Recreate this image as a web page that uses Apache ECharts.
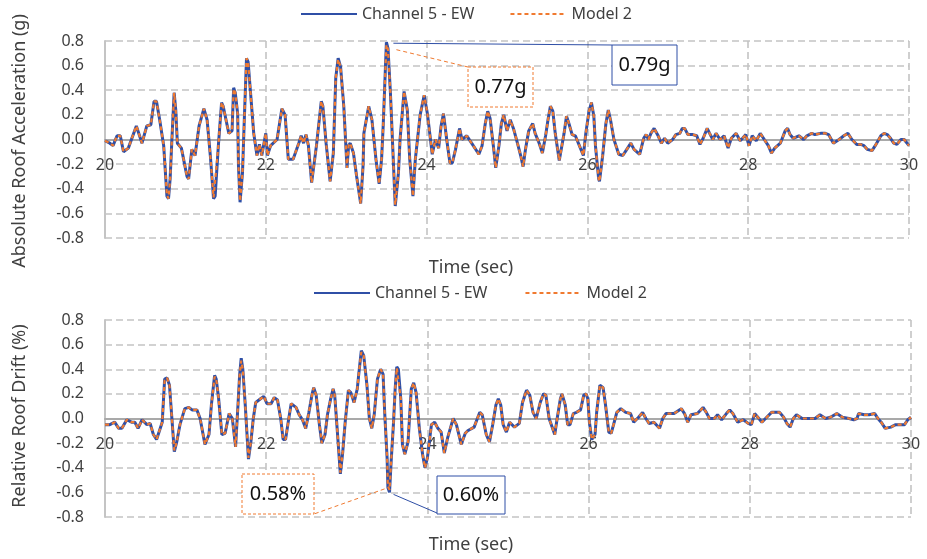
<!DOCTYPE html>
<html><head><meta charset="utf-8">
<script src="https://cdn.jsdelivr.net/npm/echarts@6/dist/echarts.min.js"></script>
<style>html,body{margin:0;padding:0;background:#fff}#c{width:927px;height:559px}</style>
</head><body><div id="c"></div>
<script>
// ---------- Data ----------
const accTime = [20.00,20.06,20.10,20.15,20.19,20.23,20.29,20.39,20.46,20.52,20.57,20.61,20.64,20.68,20.73,20.77,20.79,20.81,20.83,20.86,20.88,20.90,20.95,21.02,21.04,21.08,21.12,21.17,21.23,21.27,21.31,21.35,21.37,21.41,21.45,21.47,21.54,21.58,21.60,21.62,21.65,21.66,21.68,21.71,21.73,21.76,21.78,21.81,21.85,21.89,21.92,21.95,22.00,22.02,22.06,22.14,22.20,22.24,22.28,22.34,22.41,22.44,22.47,22.50,22.53,22.57,22.59,22.63,22.69,22.71,22.75,22.80,22.84,22.87,22.90,22.93,22.97,23.01,23.03,23.05,23.09,23.13,23.18,23.21,23.22,23.28,23.32,23.37,23.41,23.44,23.46,23.50,23.52,23.55,23.58,23.61,23.65,23.67,23.72,23.76,23.79,23.83,23.86,23.92,23.97,24.01,24.07,24.11,24.15,24.18,24.21,24.25,24.29,24.32,24.36,24.41,24.44,24.50,24.56,24.65,24.69,24.73,24.76,24.79,24.83,24.86,24.90,24.93,24.96,25.00,25.04,25.08,25.13,25.17,25.20,25.23,25.27,25.32,25.35,25.40,25.44,25.48,25.51,25.54,25.57,25.60,25.65,25.67,25.71,25.74,25.77,25.81,25.85,25.90,25.95,25.98,26.02,26.05,26.08,26.10,26.14,26.15,26.19,26.23,26.26,26.29,26.33,26.39,26.44,26.48,26.54,26.58,26.65,26.70,26.73,26.76,26.79,26.83,26.88,26.92,26.96,27.00,27.06,27.10,27.15,27.18,27.21,27.25,27.31,27.36,27.40,27.44,27.49,27.52,27.56,27.60,27.65,27.70,27.75,27.79,27.85,27.90,27.93,27.97,28.01,28.05,28.10,28.15,28.19,28.25,28.29,28.33,28.40,28.46,28.49,28.52,28.56,28.63,28.69,28.73,28.79,28.83,28.90,28.96,29.00,29.06,29.13,29.19,29.24,29.29,29.35,29.40,29.44,29.48,29.54,29.58,29.65,29.69,29.73,29.77,29.81,29.85,29.90,29.94,30.00];
const accChannel5 = [-0.01,-0.03,-0.05,0.03,0.03,-0.10,-0.07,0.11,-0.03,0.11,0.12,0.31,0.31,0.16,-0.05,-0.46,-0.48,-0.32,-0.03,0.38,0.24,-0.03,-0.07,-0.30,-0.32,-0.08,-0.13,0.11,0.25,0.16,-0.13,-0.48,-0.46,-0.05,0.30,0.27,0.05,0.07,0.42,0.38,0.21,-0.21,-0.51,-0.27,0.11,0.66,0.63,0.38,0.05,-0.13,-0.04,-0.13,0.05,-0.13,-0.05,0.00,0.25,0.20,-0.16,-0.16,-0.03,0.03,-0.03,0.04,-0.05,-0.35,-0.36,-0.05,0.31,0.27,-0.03,-0.34,-0.11,0.50,0.66,0.59,0.27,-0.23,-0.05,-0.03,-0.11,-0.30,-0.52,-0.21,0.05,0.27,0.16,-0.16,-0.36,-0.16,0.11,0.79,0.74,0.38,-0.08,-0.54,-0.27,0.00,0.39,0.24,-0.16,-0.46,-0.16,0.20,0.36,0.21,-0.12,0.00,-0.07,0.11,0.21,0.00,-0.19,-0.19,-0.08,0.09,0.00,0.03,-0.03,-0.12,-0.05,0.13,0.23,0.17,-0.05,-0.23,-0.05,0.13,0.20,0.07,0.16,0.09,-0.03,-0.13,-0.22,-0.08,0.07,0.13,0.05,-0.03,-0.11,0.03,0.16,0.27,0.23,0.05,-0.17,-0.16,0.05,0.19,0.13,0.04,0.03,-0.05,-0.13,0.05,0.23,0.30,0.19,-0.05,-0.32,-0.34,-0.13,0.13,0.24,0.15,0.00,-0.12,-0.13,-0.09,-0.03,-0.08,-0.12,0.01,0.04,0.00,0.05,0.09,0.03,-0.03,0.01,-0.03,0.00,0.04,0.05,0.09,0.09,0.04,0.04,0.03,-0.04,0.01,0.09,0.05,0.00,0.05,0.00,0.03,-0.07,0.01,0.05,-0.01,0.01,0.04,-0.05,0.03,-0.01,0.05,0.01,-0.05,-0.11,-0.07,-0.03,0.07,0.09,0.04,0.01,0.03,0.00,0.03,0.05,0.04,0.05,0.05,0.04,-0.03,0.00,0.03,0.05,0.00,-0.04,-0.04,-0.05,-0.08,-0.09,-0.05,0.03,0.05,0.04,0.01,-0.03,-0.04,0.00,0.00,-0.05];
const accModel2 = [-0.01,-0.03,-0.05,0.03,0.03,-0.10,-0.07,0.11,-0.03,0.11,0.12,0.31,0.31,0.16,-0.05,-0.45,-0.48,-0.32,-0.03,0.38,0.24,-0.03,-0.07,-0.30,-0.32,-0.08,-0.13,0.11,0.25,0.16,-0.13,-0.47,-0.46,-0.05,0.30,0.27,0.05,0.07,0.41,0.38,0.21,-0.21,-0.50,-0.27,0.11,0.66,0.63,0.38,0.05,-0.13,-0.04,-0.13,0.05,-0.13,-0.05,0.00,0.25,0.20,-0.16,-0.16,-0.03,0.03,-0.03,0.04,-0.05,-0.35,-0.36,-0.05,0.31,0.27,-0.03,-0.34,-0.11,0.50,0.65,0.59,0.27,-0.23,-0.05,-0.03,-0.11,-0.30,-0.52,-0.21,0.05,0.27,0.16,-0.16,-0.36,-0.16,0.11,0.77,0.73,0.38,-0.08,-0.53,-0.27,0.00,0.39,0.24,-0.16,-0.46,-0.16,0.20,0.36,0.21,-0.12,0.00,-0.07,0.11,0.21,0.00,-0.19,-0.19,-0.08,0.09,0.00,0.03,-0.03,-0.12,-0.05,0.13,0.23,0.17,-0.05,-0.23,-0.05,0.13,0.20,0.07,0.16,0.09,-0.03,-0.13,-0.22,-0.08,0.07,0.13,0.05,-0.03,-0.11,0.03,0.16,0.27,0.23,0.05,-0.17,-0.16,0.05,0.19,0.13,0.04,0.03,-0.05,-0.13,0.05,0.23,0.30,0.19,-0.05,-0.32,-0.34,-0.13,0.13,0.24,0.15,0.00,-0.12,-0.13,-0.09,-0.03,-0.08,-0.12,0.01,0.04,0.00,0.05,0.09,0.03,-0.03,0.01,-0.03,0.00,0.04,0.05,0.09,0.09,0.04,0.04,0.03,-0.04,0.01,0.09,0.05,0.00,0.05,0.00,0.03,-0.07,0.01,0.05,-0.01,0.01,0.04,-0.05,0.03,-0.01,0.05,0.01,-0.05,-0.11,-0.07,-0.03,0.07,0.09,0.04,0.01,0.03,0.00,0.03,0.05,0.04,0.05,0.05,0.04,-0.03,0.00,0.03,0.05,0.00,-0.04,-0.04,-0.05,-0.08,-0.09,-0.05,0.03,0.05,0.04,0.01,-0.03,-0.04,0.00,0.00,-0.05];

const driftTime = [20.00,20.06,20.12,20.17,20.21,20.27,20.33,20.37,20.41,20.46,20.52,20.56,20.60,20.64,20.71,20.74,20.77,20.80,20.83,20.86,20.89,20.93,20.99,21.04,21.08,21.14,21.18,21.24,21.29,21.32,21.36,21.38,21.41,21.45,21.49,21.54,21.58,21.62,21.65,21.67,21.69,21.71,21.74,21.78,21.81,21.84,21.87,21.93,21.97,22.01,22.06,22.10,22.14,22.18,22.21,22.24,22.28,22.31,22.37,22.41,22.45,22.49,22.53,22.57,22.59,22.62,22.66,22.69,22.73,22.76,22.80,22.83,22.85,22.88,22.92,22.95,22.98,23.02,23.05,23.09,23.13,23.15,23.18,23.21,23.25,23.28,23.31,23.34,23.38,23.42,23.45,23.47,23.50,23.51,23.53,23.55,23.58,23.60,23.62,23.64,23.67,23.69,23.72,23.76,23.80,23.83,23.86,23.90,23.94,23.97,24.00,24.05,24.09,24.13,24.17,24.21,24.25,24.32,24.36,24.42,24.47,24.50,24.58,24.62,24.65,24.68,24.73,24.77,24.81,24.85,24.88,24.91,24.94,24.98,25.02,25.08,25.14,25.18,25.23,25.27,25.31,25.35,25.40,25.44,25.47,25.51,25.58,25.61,25.65,25.67,25.71,25.74,25.77,25.81,25.85,25.90,25.94,25.97,25.99,26.01,26.04,26.08,26.10,26.14,26.18,26.21,26.25,26.28,26.31,26.35,26.40,26.46,26.52,26.56,26.62,26.67,26.71,26.75,26.81,26.88,26.92,26.96,27.06,27.15,27.19,27.23,27.27,27.35,27.42,27.46,27.50,27.56,27.60,27.65,27.71,27.75,27.79,27.85,27.92,27.98,28.02,28.06,28.10,28.15,28.21,28.27,28.37,28.42,28.46,28.50,28.54,28.58,28.65,28.73,28.81,28.87,28.94,29.00,29.08,29.15,29.23,29.29,29.33,29.35,29.42,29.48,29.55,29.59,29.63,29.68,29.75,29.81,29.87,29.92,29.96,30.00];
const driftChannel5 = [-0.05,-0.05,-0.03,-0.08,-0.08,-0.01,-0.03,-0.03,-0.08,-0.01,-0.05,-0.04,-0.13,-0.17,-0.03,0.32,0.33,0.27,0.00,-0.27,-0.19,-0.05,0.08,0.09,0.07,0.07,0.00,-0.21,-0.13,0.11,0.35,0.32,0.16,-0.13,-0.12,0.04,0.00,-0.23,0.11,0.35,0.49,0.40,0.11,-0.33,-0.19,0.00,0.13,0.16,0.18,0.12,0.12,0.17,0.15,0.00,-0.17,-0.17,0.00,0.12,0.09,0.03,-0.01,-0.08,0.05,0.20,0.25,0.19,-0.05,-0.20,-0.13,0.03,0.16,0.24,0.19,-0.08,-0.45,-0.27,-0.03,0.23,0.21,0.13,0.24,0.37,0.55,0.51,0.27,0.00,-0.08,0.03,0.32,0.40,0.36,0.05,-0.32,-0.56,-0.60,-0.35,-0.03,0.24,0.42,0.40,0.16,-0.21,-0.29,-0.19,0.24,0.29,0.21,-0.08,-0.29,-0.40,-0.32,-0.05,-0.03,-0.08,-0.11,-0.28,-0.16,0.00,-0.05,-0.21,-0.12,-0.10,-0.07,0.00,0.05,0.03,-0.13,-0.19,-0.05,0.11,0.16,0.11,-0.05,-0.11,-0.03,-0.07,-0.04,0.13,0.23,0.19,0.05,0.00,0.13,0.20,0.19,0.00,-0.13,0.00,0.16,0.20,0.11,-0.05,-0.05,0.04,0.05,0.07,0.19,0.20,0.16,-0.03,-0.17,-0.13,0.05,0.27,0.25,0.11,-0.11,-0.12,-0.05,0.05,0.08,0.05,0.04,-0.03,0.01,0.05,0.00,-0.04,-0.03,-0.08,0.00,0.04,0.04,0.08,0.04,-0.03,0.03,0.04,0.09,0.05,0.00,0.00,0.03,-0.01,0.04,0.07,0.04,-0.03,-0.01,-0.04,-0.05,0.04,0.01,-0.03,0.01,0.05,0.05,0.01,-0.04,-0.07,0.00,0.03,0.00,0.00,0.00,0.03,0.00,0.01,0.04,0.01,0.00,-0.01,0.00,0.04,0.03,0.03,0.04,0.00,-0.03,-0.08,-0.07,-0.05,-0.05,-0.05,-0.01,0.01];
const driftModel2 = [-0.05,-0.05,-0.03,-0.08,-0.08,-0.01,-0.03,-0.03,-0.08,-0.01,-0.05,-0.04,-0.13,-0.17,-0.03,0.31,0.33,0.27,0.00,-0.26,-0.19,-0.05,0.08,0.09,0.07,0.07,0.00,-0.21,-0.13,0.11,0.34,0.32,0.16,-0.13,-0.12,0.04,0.00,-0.23,0.11,0.35,0.47,0.40,0.11,-0.32,-0.19,0.00,0.13,0.16,0.18,0.12,0.12,0.17,0.15,0.00,-0.17,-0.17,0.00,0.12,0.09,0.03,-0.01,-0.08,0.05,0.20,0.25,0.19,-0.05,-0.20,-0.13,0.03,0.16,0.24,0.19,-0.08,-0.44,-0.27,-0.03,0.23,0.21,0.13,0.24,0.37,0.54,0.51,0.27,0.00,-0.08,0.03,0.32,0.40,0.36,0.05,-0.32,-0.55,-0.58,-0.35,-0.03,0.24,0.41,0.40,0.16,-0.21,-0.29,-0.19,0.24,0.29,0.21,-0.08,-0.29,-0.40,-0.32,-0.05,-0.03,-0.08,-0.11,-0.28,-0.16,0.00,-0.05,-0.21,-0.12,-0.10,-0.07,0.00,0.05,0.03,-0.13,-0.19,-0.05,0.11,0.16,0.11,-0.05,-0.11,-0.03,-0.07,-0.04,0.13,0.23,0.19,0.05,0.00,0.13,0.20,0.19,0.00,-0.13,0.00,0.16,0.20,0.11,-0.05,-0.05,0.04,0.05,0.07,0.19,0.20,0.16,-0.03,-0.17,-0.13,0.05,0.27,0.25,0.11,-0.11,-0.12,-0.05,0.05,0.08,0.05,0.04,-0.03,0.01,0.05,0.00,-0.04,-0.03,-0.08,0.00,0.04,0.04,0.08,0.04,-0.03,0.03,0.04,0.09,0.05,0.00,0.00,0.03,-0.01,0.04,0.07,0.04,-0.03,-0.01,-0.04,-0.05,0.04,0.01,-0.03,0.01,0.05,0.05,0.01,-0.04,-0.07,0.00,0.03,0.00,0.00,0.00,0.03,0.00,0.01,0.04,0.01,0.00,-0.01,0.00,0.04,0.03,0.03,0.04,0.00,-0.03,-0.08,-0.07,-0.05,-0.05,-0.05,-0.01,0.01];

const seriesNames = ['Channel 5 - EW', 'Model 2'];
const xRange = [20, 30];           // time axis, tick every 2 s
const yRange = [-0.8, 0.8];        // both value axes, tick every 0.2
const accPeak = { time: 23.50, channel5: 0.79, model2: 0.77, labels: ['0.79g', '0.77g'] };
const driftPeak = { time: 23.53, channel5: -0.60, model2: -0.58, labels: ['0.60%', '0.58%'] };
const axisTitles = { x: 'Time (sec)', acc: 'Absolute Roof Acceleration (g)', drift: 'Relative Roof Drift (%)' };

// ---------- Chart ----------
const FONT = 'Noto Sans';
const BLUE = '#2F4FA6', ORANGE = '#F07A30', GRID = '#C4C4C4', AXIS = '#A9A9A9', TXT = '#404040';
const pairs = (t, v) => t.map((x, i) => [x, v[i]]);
const GRID_H = 197;

function xAxisCfg(g) {
  return {
    gridIndex: g, type: 'value', min: xRange[0], max: xRange[1], interval: 2,
    axisLine: { onZero: true, lineStyle: { color: AXIS, width: 2 } },
    axisTick: { show: false },
    axisLabel: { show: false },
    splitLine: { show: true, lineStyle: { color: GRID, type: [7, 4], width: 1.6 } }
  };
}
// label-only axis sitting on the zero line (Excel "next to axis" labels)
function xLabelAxisCfg(g) {
  return {
    gridIndex: g, type: 'value', min: xRange[0], max: xRange[1], interval: 2,
    position: 'bottom', offset: -GRID_H / 2,
    axisLine: { show: false, onZero: false },
    axisTick: { show: false },
    splitLine: { show: false },
    axisLabel: { color: TXT, fontSize: 16, fontFamily: FONT, margin: 18 }
  };
}
function yAxisCfg(g) {
  return {
    gridIndex: g, type: 'value', min: yRange[0], max: yRange[1], interval: 0.2,
    axisLine: { show: true, onZero: false, lineStyle: { color: GRID, width: 2 } },
    axisTick: { show: false },
    axisLabel: { color: TXT, fontSize: 16, fontFamily: FONT, margin: 21,
      formatter: v => (Math.abs(v) < 1e-9 ? 0 : v).toFixed(1) },
    splitLine: { show: true, lineStyle: { color: GRID, type: [7, 4], width: 1.6 } }
  };
}
function lineSeries(name, g, data, color, dashed) {
  return {
    name, type: 'line', xAxisIndex: g, yAxisIndex: g, data, symbol: 'none', silent: true,
    lineStyle: { color, width: dashed ? 2.2 : 3, type: dashed ? [4, 3] : 'solid' },
    itemStyle: { color }, z: dashed ? 3 : 2
  };
}
function legendCfg(left, top, gap) {
  return {
    left, top, padding: 0, itemWidth: 56, itemHeight: 12, itemGap: gap,
    data: seriesNames, selectedMode: false,
    itemStyle: { opacity: 0 },
    textStyle: { color: TXT, fontSize: 16, fontFamily: FONT }
  };
}

const chart = echarts.init(document.getElementById('c'), null, { renderer: 'canvas' });
chart.setOption({
  animation: false,
  backgroundColor: '#fff',
  grid: [
    { left: 105, right: 18, top: 41, height: GRID_H },
    { left: 105, right: 16, top: 320, height: GRID_H }
  ],
  legend: [legendCfg(300, 6, 35), legendCfg(313, 285, 37)],
  xAxis: [xAxisCfg(0), xAxisCfg(1), xLabelAxisCfg(0), xLabelAxisCfg(1)],
  yAxis: [yAxisCfg(0), yAxisCfg(1)],
  series: [
    lineSeries(seriesNames[0], 0, pairs(accTime, accChannel5), BLUE, false),
    lineSeries(seriesNames[1], 0, pairs(accTime, accModel2), ORANGE, true),
    lineSeries(seriesNames[0], 1, pairs(driftTime, driftChannel5), BLUE, false),
    lineSeries(seriesNames[1], 1, pairs(driftTime, driftModel2), ORANGE, true)
  ]
});

// ---------- Annotations (leader lines anchored on the peaks) ----------
const pA1 = chart.convertToPixel({ gridIndex: 0 }, [accPeak.time, accPeak.channel5]);
const pA2 = chart.convertToPixel({ gridIndex: 0 }, [accPeak.time, accPeak.model2]);
const pD1 = chart.convertToPixel({ gridIndex: 1 }, [driftPeak.time, driftPeak.channel5]);
const pD2 = chart.convertToPixel({ gridIndex: 1 }, [driftPeak.time, driftPeak.model2]);

function box(x, y, w, h, color, dashed, label) {
  return [
    { type: 'rect', shape: { x, y, width: w, height: h }, z: 20,
      style: { fill: '#fff', stroke: color, lineWidth: 1, lineDash: dashed ? [3, 2] : null } },
    { type: 'text', x: x + w / 2, y: y + h / 2, z: 21,
      style: { text: label, fill: '#111', font: '20px "' + FONT + '"', align: 'center', verticalAlign: 'middle' } }
  ];
}
function leader(p, q, color, dashed) {
  return { type: 'line', z: 19, shape: { x1: p[0], y1: p[1], x2: q[0], y2: q[1] },
    style: { stroke: color, lineWidth: 1, lineDash: dashed ? [4, 3] : null } };
}
function rotText(text, x, y) {
  return { type: 'text', x, y, rotation: Math.PI / 2, z: 10,
    style: { text, fill: TXT, font: '18px "' + FONT + '"', align: 'center', verticalAlign: 'middle' } };
}
function hText(text, x, y) {
  return { type: 'text', x, y, z: 10,
    style: { text, fill: TXT, font: '18px "' + FONT + '"', align: 'center', verticalAlign: 'middle' } };
}

chart.setOption({
  graphic: [
    leader([pA1[0] + 7, pA1[1] + 1], [612, 45], BLUE, false),
    leader([pA2[0] + 10, pA2[1] + 5], [468, 67], ORANGE, true),
    ...box(612, 45, 65, 40, BLUE, false, accPeak.labels[0]),
    ...box(468, 67, 65, 40, ORANGE, true, accPeak.labels[1]),
    leader([pD2[0] - 5, pD2[1] - 1], [314, 514], ORANGE, true),
    leader([pD1[0] + 4, pD1[1] + 2], [437, 513], BLUE, false),
    ...box(242, 474, 72, 40, ORANGE, true, driftPeak.labels[1]),
    ...box(437, 476, 68, 38, BLUE, false, driftPeak.labels[0]),
    rotText(axisTitles.acc, 20, 141),
    rotText(axisTitles.drift, 20, 416),
    hText(axisTitles.x, 471, 268),
    hText(axisTitles.x, 471, 545)
  ]
});
</script>
</body></html>
